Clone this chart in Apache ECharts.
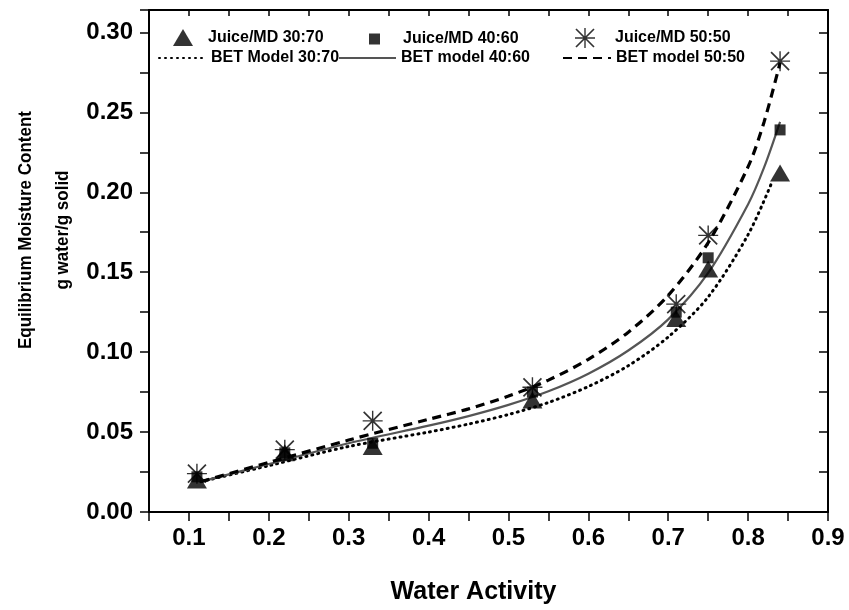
<!DOCTYPE html>
<html>
<head>
<meta charset="utf-8">
<script src="https://cdn.jsdelivr.net/npm/echarts@6/dist/echarts.min.js"></script>
<style>
  html, body { margin: 0; padding: 0; background: #fff; }
  #chart { width: 849px; height: 610px; }
</style>
</head>
<body>
<div id="chart"></div>
<script>
// measured points (water activity of the salt solutions)
var awPoints = [0.11, 0.22, 0.33, 0.53, 0.71, 0.75, 0.84];
var emc3070 = [0.020, 0.037, 0.041, 0.070, 0.121, 0.152, 0.212];
var emc4060 = [0.022, 0.037, 0.043, 0.075, 0.125, 0.159, 0.239];
var emc5050 = [0.024, 0.039, 0.057, 0.078, 0.130, 0.173, 0.282];

// BET model curves
var betAw3070 = [0.115, 0.2, 0.3, 0.4, 0.45, 0.5, 0.55, 0.6, 0.65, 0.7, 0.75, 0.8, 0.83];
var bet3070 = [0.019, 0.029, 0.041, 0.050, 0.055, 0.061, 0.0685, 0.0785, 0.0915, 0.1095, 0.1345, 0.1735, 0.2065];
var betAw = [0.115, 0.2, 0.3, 0.4, 0.45, 0.5, 0.55, 0.6, 0.65, 0.7, 0.75, 0.8, 0.82, 0.84];
var bet4060 = [0.019, 0.030, 0.043, 0.054, 0.060, 0.067, 0.0755, 0.0865, 0.101, 0.1205, 0.1495, 0.1925, 0.2155, 0.244];
var bet5050 = [0.019, 0.031, 0.045, 0.058, 0.0645, 0.0725, 0.0825, 0.0955, 0.1125, 0.1355, 0.1685, 0.216, 0.244, 0.281];

var seriesNames = ['Juice/MD 30:70', 'Juice/MD 40:60', 'Juice/MD 50:50',
                   'BET Model 30:70', 'BET model 40:60', 'BET model 50:50'];

var FONT = "'Liberation Sans', Arial, sans-serif";
var ASTERISK = 'path://M9.3 0H10.7V20H9.3Z M0 9.3H20V10.7H0Z M1.6 0.4L19.6 18.4L18.4 19.6L0.4 1.6Z M18.4 0.4L19.6 1.6L1.6 19.6L0.4 18.4Z';

function pairs(xs, ys) {
    var out = [];
    for (var i = 0; i < xs.length; i++) out.push([xs[i], ys[i]]);
    return out;
}

function isMultiple(v, step) {
    var r = Math.round(v / step);
    return Math.abs(v - r * step) < 1e-6;
}

// one legend per entry so each sits where the original put it
function legendAt(item, left, top, itemWidth, itemHeight, textPad) {
    return {
        data: [item],
        left: left,
        top: top,
        padding: 0,
        itemWidth: itemWidth,
        itemHeight: itemHeight,
        selectedMode: false,
        textStyle: {
            fontFamily: FONT, fontWeight: 'bold', fontSize: 16, color: '#000',
            padding: [0, 0, 0, textPad]
        }
    };
}

// line entries: keep the line, hide the marker dot in the middle
function lineItem(name) {
    return { name: name, itemStyle: { opacity: 0, color: 'rgba(0,0,0,0)', borderWidth: 0 } };
}

var chart = echarts.init(document.getElementById('chart'));

var axisLine = { show: true, onZero: false, lineStyle: { color: '#000', width: 2 } };

var option = {
    animation: false,
    backgroundColor: '#fff',
    grid: { left: 149, right: 21, top: 10, bottom: 97 },
    legend: [
        legendAt(seriesNames[0], 173, 29, 20, 17, 10),
        legendAt(seriesNames[1], 369, 31, 11, 11, 18),
        legendAt(seriesNames[2], 575, 28, 20, 20, 15),
        legendAt(lineItem(seriesNames[3]), 158, 50, 47, 18, 0),
        legendAt(lineItem(seriesNames[4]), 338, 50, 57, 18, 0),
        legendAt(lineItem(seriesNames[5]), 562, 50, 48, 18, 0)
    ],
    graphic: [{
        type: 'text',
        x: 44,
        y: 230,
        rotation: Math.PI / 2,
        scaleY: 1.12,
        style: {
            text: 'Equilibrium Moisture Content\ng water/g solid',
            font: 'bold 17px ' + FONT,
            fill: '#000',
            align: 'center',
            verticalAlign: 'middle',
            lineHeight: 33
        }
    }],
    xAxis: [{
        type: 'value',
        min: 0.05,
        max: 0.9,
        interval: 0.05,
        name: 'Water Activity',
        nameLocation: 'middle',
        nameGap: 68,
        nameTextStyle: {
            fontFamily: FONT, fontWeight: 'bold', fontSize: 25, color: '#000',
            padding: [0, 30, 0, 0]
        },
        axisLine: axisLine,
        axisTick: { show: true, inside: false, length: 9, lineStyle: { color: '#000', width: 1.5 } },
        axisLabel: {
            margin: 14,
            fontFamily: FONT, fontWeight: 'bold', fontSize: 24, color: '#000',
            showMinLabel: true, showMaxLabel: true,
            formatter: function (v) {
                if (v < 0.09 || !isMultiple(v, 0.1)) return '';
                return v.toFixed(1);
            }
        },
        splitLine: { show: false }
    }, {
        type: 'value',
        position: 'top',
        min: 0.05,
        max: 0.9,
        interval: 0.05,
        axisLine: axisLine,
        axisTick: { show: true, inside: true, length: 6, lineStyle: { color: '#000', width: 1.5 } },
        axisLabel: { show: false },
        splitLine: { show: false }
    }],
    yAxis: [{
        type: 'value',
        min: 0,
        max: 0.314,
        interval: 0.025,
        axisLine: axisLine,
        axisTick: { show: true, inside: false, length: 9, lineStyle: { color: '#000', width: 1.5 } },
        axisLabel: {
            margin: 16,
            fontFamily: FONT, fontWeight: 'bold', fontSize: 24, color: '#000',
            showMaxLabel: true,
            formatter: function (v) {
                if (!isMultiple(v, 0.05) || v > 0.301) return '';
                return v.toFixed(2);
            }
        },
        splitLine: { show: false }
    }, {
        type: 'value',
        position: 'right',
        min: 0,
        max: 0.314,
        interval: 0.025,
        axisLine: axisLine,
        axisTick: { show: true, inside: true, length: 9, lineStyle: { color: '#000', width: 1.5 } },
        axisLabel: { show: false },
        splitLine: { show: false }
    }],
    series: [{
        name: seriesNames[3],
        type: 'line',
        data: pairs(betAw3070, bet3070),
        smooth: 0.3,
        symbol: 'none',
        z: 2,
        lineStyle: { color: '#000', width: 3, type: [1, 5], cap: 'round' },
        itemStyle: { color: '#000' }
    }, {
        name: seriesNames[4],
        type: 'line',
        data: pairs(betAw, bet4060),
        smooth: 0.3,
        symbol: 'none',
        z: 2,
        lineStyle: { color: '#555', width: 2.2, type: 'solid' },
        itemStyle: { color: '#555' }
    }, {
        name: seriesNames[5],
        type: 'line',
        data: pairs(betAw, bet5050),
        smooth: 0.3,
        symbol: 'none',
        z: 2,
        lineStyle: { color: '#000', width: 3.2, type: [9, 6] },
        itemStyle: { color: '#000' }
    }, {
        name: seriesNames[0],
        type: 'scatter',
        data: pairs(awPoints, emc3070),
        symbol: 'triangle',
        symbolSize: [20, 17],
        z: 5,
        itemStyle: { color: '#000' }
    }, {
        name: seriesNames[1],
        type: 'scatter',
        data: pairs(awPoints, emc4060),
        symbol: 'rect',
        symbolSize: 11,
        z: 4,
        itemStyle: { color: '#000' }
    }, {
        name: seriesNames[2],
        type: 'scatter',
        data: pairs(awPoints, emc5050),
        symbol: ASTERISK,
        symbolSize: 20,
        z: 3,
        itemStyle: { color: '#000' }
    }]
};

chart.setOption(option);
</script>
</body>
</html>
